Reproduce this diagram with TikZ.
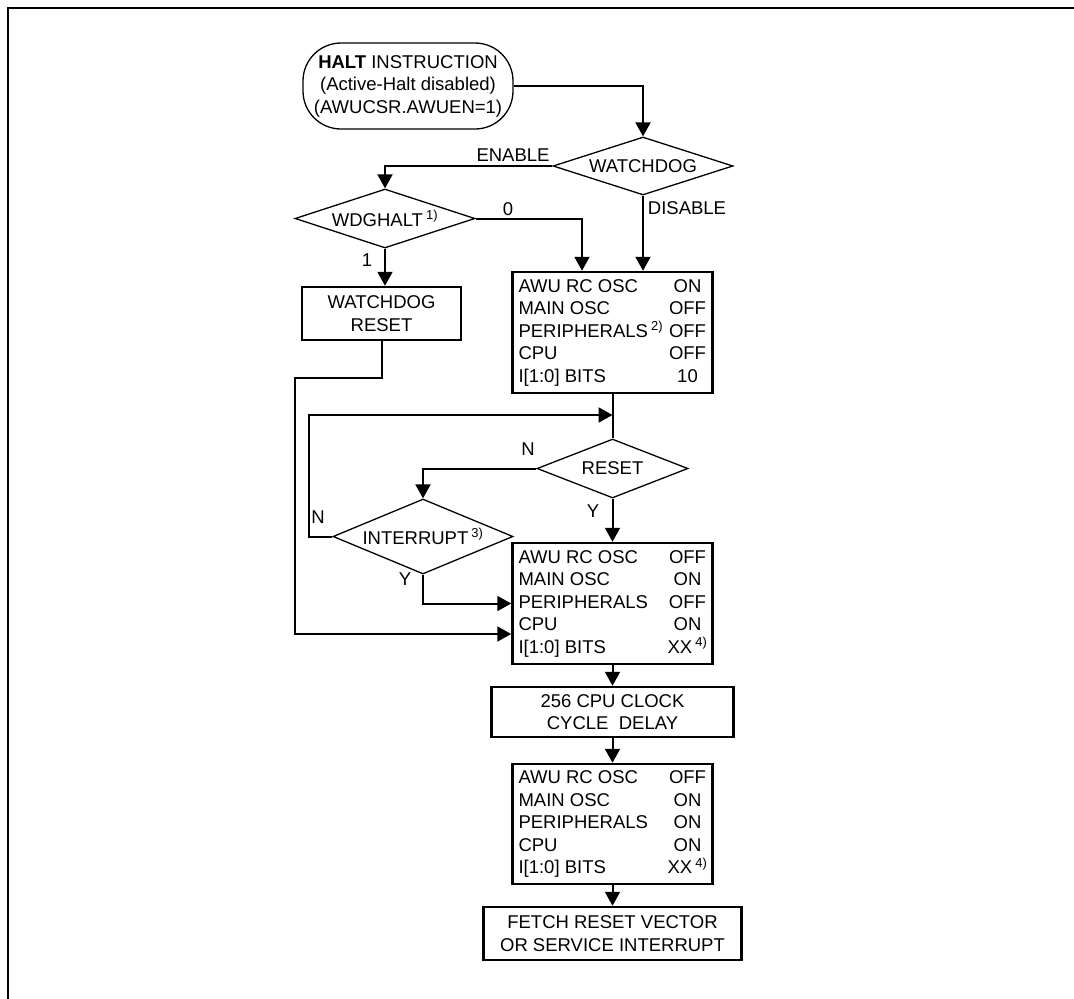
\documentclass[tikz,border=0pt]{standalone}
\usepackage{fontspec}
\setmainfont{Liberation Sans}
\usetikzlibrary{arrows.meta,shapes.geometric}

\newcommand{\fnote}[1]{\,\textsuperscript{#1}}
\newcommand{\staterow}[2]{\makebox[150pt][l]{#1}\makebox[38pt][c]{#2}}

\begin{document}
\begin{tikzpicture}[x=1pt,y=1pt,
  every node/.style={font=\fontsize{18.5}{22.5}\selectfont},
  wire/.style={line width=2pt},
  flowarrow/.style={line width=2pt,-{Triangle[length=14pt,width=15pt]}},
  decision/.style={draw,diamond,aspect=3,line width=1.3pt,inner sep=0pt,
    minimum width=180pt,minimum height=58pt},
  stepbox/.style={draw,rectangle,line width=2.5pt,align=center},
  statebox/.style={draw,rectangle,line width=2.5pt,align=left,inner sep=6pt,
    minimum width=199pt,minimum height=121pt}]
  \useasboundingbox (0,0) rectangle (1074,-999);
  \draw[line width=2.5pt] (1080,-8) -- (8,-8) -- (8,-1010);

  % boxes and decisions
  \node[draw,line width=1.3pt,rounded corners=38pt,minimum width=210pt,
    minimum height=86pt,align=center] (halt) at (408,-86)
    {\textbf{HALT} INSTRUCTION\\(Active-Halt disabled)\\(AWUCSR.AWUEN=1)};
  \node[decision] (wdog) at (643,-166) {WATCHDOG};
  \node[decision,minimum height=59pt] (wdghalt) at (385,-218.5) {WDGHALT\fnote{1)}};
  \node[stepbox,minimum width=159pt,minimum height=53pt] (wdreset) at (381.5,-313.5)
    {WATCHDOG\\RESET};
  \node[statebox] (halted) at (612.5,-332.5)
    {\staterow{AWU RC OSC}{ON}\\
     \staterow{MAIN OSC}{OFF}\\
     \staterow{PERIPHERALS\fnote{2)}}{OFF}\\
     \staterow{CPU}{OFF}\\
     \staterow{I[1:0] BITS}{10}};
  \node[decision,minimum width=151pt,minimum height=59pt] (reset) at (612.5,-468.5) {RESET};
  \node[decision,minimum height=75pt] (intr) at (423,-536.5) {INTERRUPT\fnote{3)}};
  \node[statebox] (waking) at (612.5,-603.5)
    {\staterow{AWU RC OSC}{OFF}\\
     \staterow{MAIN OSC}{ON}\\
     \staterow{PERIPHERALS}{OFF}\\
     \staterow{CPU}{ON}\\
     \staterow{I[1:0] BITS}{XX\fnote{4)}}};
  \node[stepbox,minimum width=242pt,minimum height=50pt] (delay) at (612.5,-712)
    {256 CPU CLOCK\\CYCLE\ \ DELAY};
  \node[statebox,minimum height=120pt] (running) at (612.5,-824)
    {\staterow{AWU RC OSC}{OFF}\\
     \staterow{MAIN OSC}{ON}\\
     \staterow{PERIPHERALS}{ON}\\
     \staterow{CPU}{ON}\\
     \staterow{I[1:0] BITS}{XX\fnote{4)}}};
  \node[stepbox,minimum width=258pt,minimum height=53pt] (fetch) at (612.5,-933.5)
    {FETCH RESET VECTOR\\OR SERVICE INTERRUPT};

  % connectors
  \coordinate (in0) at ([xshift=-30.5pt]halted.north);
  \coordinate (merge) at (612.5,-415);
  \coordinate (rst) at ([yshift=-30.5pt]waking.west);
  \draw[flowarrow] (halt.east) -| (wdog.north);
  \draw[flowarrow] (wdog.west) -| (wdghalt.north);
  \draw[flowarrow] (wdghalt.east) -| (in0);
  \draw[flowarrow] (wdog.south) -- (wdog.south |- halted.north);
  \draw[flowarrow] (wdghalt.south) -- (wdghalt.south |- wdreset.north);
  \draw[wire] (halted.south) -- (reset.north);
  \draw[flowarrow] (reset.west) -| (intr.north);
  \draw[flowarrow] (intr.west) -- ++(-23,0) |- (merge);
  \draw[flowarrow] (reset.south) -- (waking.north);
  \draw[flowarrow] (intr.south) |- (waking.west);
  \draw[flowarrow] (wdreset.south) -- ++(0,-37) -- ++(-86.5,0) |- (rst);
  \draw[flowarrow] (waking.south) -- (delay.north);
  \draw[flowarrow] (delay.south) -- (running.north);
  \draw[flowarrow] (running.south) -- (fetch.north);

  % labels
  \node (lenable) at (513,-155) {ENABLE};
  \node (ldisable) at (687,-208) {DISABLE};
  \node (lzero) at (508,-209) {0};
  \node (lone) at (367,-260) {1};
  \node (lresetn) at (528,-449) {N};
  \node (lresety) at (593,-511) {Y};
  \node (lintrn) at (318,-517) {N};
  \node (lintry) at (405,-579) {Y};
\end{tikzpicture}
\end{document}
